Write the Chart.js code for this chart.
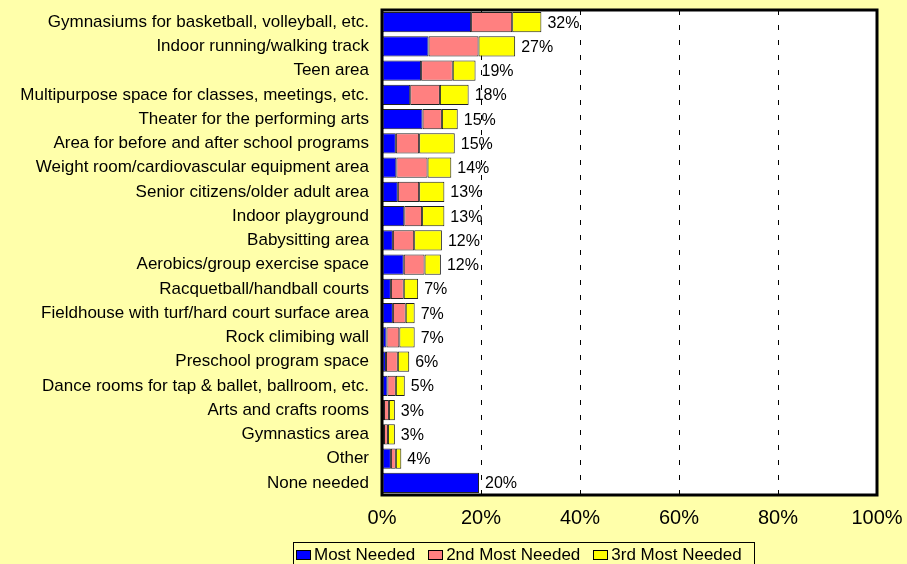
<!DOCTYPE html>
<html>
<head>
<meta charset="utf-8">
<script src="https://cdn.jsdelivr.net/npm/chart.js@4.4.1/dist/chart.umd.min.js"></script>
<style>
  body { margin:0; background:#FFFFAA; }
  #wrap { position:relative; width:907px; height:564px; overflow:hidden; background:#FFFFAA; }
  #legenda { position:absolute; left:293px; top:542px; width:462px; height:26px; border:1px solid #000; box-sizing:border-box;
    display:flex; align-items:center; padding-left:2px; font:17px 'Liberation Sans', Arial, sans-serif; color:#000; white-space:nowrap; }
  .item { display:flex; align-items:center; margin-right:13px; }
  .cx { width:15px; height:10px; border:1px solid #000; box-sizing:border-box; margin-right:3px; }
</style>
</head>
<body>
<div id="wrap">
  <canvas id="grafico" width="907" height="564"></canvas>
  <div id="legenda"></div>
</div>
<script>
// DADOS
const categorias = [
  "Gymnasiums for basketball, volleyball, etc.",
  "Indoor running/walking track",
  "Teen area",
  "Multipurpose space for classes, meetings, etc.",
  "Theater for the performing arts",
  "Area for before and after school programs",
  "Weight room/cardiovascular equipment area",
  "Senior citizens/older adult area",
  "Indoor playground",
  "Babysitting area",
  "Aerobics/group exercise space",
  "Racquetball/handball courts",
  "Fieldhouse with turf/hard court surface area",
  "Rock climibing wall",
  "Preschool program space",
  "Dance rooms for tap & ballet, ballroom, etc.",
  "Arts and crafts rooms",
  "Gymnastics area",
  "Other",
  "None needed"
];
const series = ["Most Needed", "2nd Most Needed", "3rd Most Needed"];
const mostNeeded   = [18.0, 9.4, 7.9, 5.7, 8.2, 2.8, 2.9, 3.2, 4.5, 2.2, 4.4, 1.8, 2.2, 0.9, 0.8, 1.1, 0.4, 0.4, 1.8, 19.6];
const secondNeeded = [8.3, 10.1, 6.4, 6.0, 3.9, 4.7, 6.3, 4.3, 3.6, 4.3, 4.2, 2.6, 2.6, 2.6, 2.4, 1.7, 1.0, 0.8, 1.0, null];
const thirdNeeded  = [5.9, 7.4, 4.6, 5.8, 3.2, 7.2, 4.8, 5.1, 4.5, 5.6, 3.3, 2.9, 1.8, 3.1, 2.3, 1.8, 1.2, 1.4, 1.1, null];
const totais = ["32%", "27%", "19%", "18%", "15%", "15%", "14%", "13%", "13%", "12%", "12%", "7%", "7%", "7%", "6%", "5%", "3%", "3%", "4%", "20%"];
const xTicks = [0, 20, 40, 60, 80, 100];

const cores = ["#0000FF", "#FF8080", "#FFFF00"];
const fonte = "'Liberation Sans', Arial, sans-serif";

// FUNDO BRANCO, ROTULOS E MOLDURA
const moldura = {
  id: "moldura",
  beforeDraw(chart) {
    const { ctx, chartArea: a } = chart;
    ctx.save();
    ctx.fillStyle = "#FFFFFF";
    ctx.fillRect(a.left, a.top, a.right - a.left, a.bottom - a.top);
    ctx.restore();
  },
  afterDatasetsDraw(chart) {
    const { ctx, chartArea: a, scales } = chart;
    ctx.save();
    ctx.font = "16px " + fonte;
    ctx.fillStyle = "#000";
    ctx.textAlign = "left";
    ctx.textBaseline = "middle";
    const meta = chart.getDatasetMeta(0);
    categorias.forEach((c, i) => {
      const soma = (mostNeeded[i] || 0) + (secondNeeded[i] || 0) + (thirdNeeded[i] || 0);
      ctx.fillText(totais[i], scales.x.getPixelForValue(soma) + 6, meta.data[i].y + 1);
    });
    ctx.lineWidth = 3;
    ctx.strokeStyle = "#000";
    ctx.strokeRect(a.left, a.top, a.right - a.left, a.bottom - a.top);
    ctx.restore();
  }
};

// sem folga automatica para os rotulos das pontas
function semFolga(s) {
  s.paddingTop = 0; s.paddingBottom = 0; s.paddingLeft = 0; s.paddingRight = 0;
}

new Chart(document.getElementById("grafico"), {
  type: "bar",
  data: {
    labels: categorias,
    datasets: [mostNeeded, secondNeeded, thirdNeeded].map((d, k) => ({
      label: series[k],
      data: d,
      backgroundColor: cores[k],
      borderColor: "#222",
      borderWidth: 1,
      borderSkipped: false,
      categoryPercentage: 1,
      barPercentage: 0.83
    }))
  },
  options: {
    indexAxis: "y",
    responsive: false,
    animation: false,
    devicePixelRatio: 1,
    layout: { padding: { top: 10, right: 30, left: 0, bottom: 0 } },
    plugins: { legend: { display: false }, tooltip: { enabled: false } },
    scales: {
      x: {
        stacked: true, min: 0, max: 100,
        afterBuildTicks: s => { s.ticks = xTicks.map(v => ({ value: v })); },
        afterFit: s => { s.height = 69; semFolga(s); },
        ticks: { callback: v => v + "%", color: "#000", padding: 11, maxRotation: 0, font: { family: fonte, size: 20 } },
        grid: {
          drawTicks: false,
          color: c => (c.tick && (c.tick.value === 0 || c.tick.value === 100)) ? "rgba(0,0,0,0)" : "#000",
          lineWidth: 1
        },
        border: { display: false, dash: [5, 10] }
      },
      y: {
        stacked: true,
        afterFit: s => { s.width = 382; semFolga(s); },
        ticks: { color: "#000", padding: 13, autoSkip: false, font: { family: fonte, size: 17 } },
        grid: { display: false, drawTicks: false },
        border: { display: false }
      }
    }
  },
  plugins: [moldura]
});

// LEGENDA
const legenda = document.getElementById("legenda");
series.forEach((s, k) => {
  legenda.innerHTML += `<span class="item"><span class="cx" style="background:${cores[k]}"></span>${s}</span>`;
});
</script>
</body>
</html>
